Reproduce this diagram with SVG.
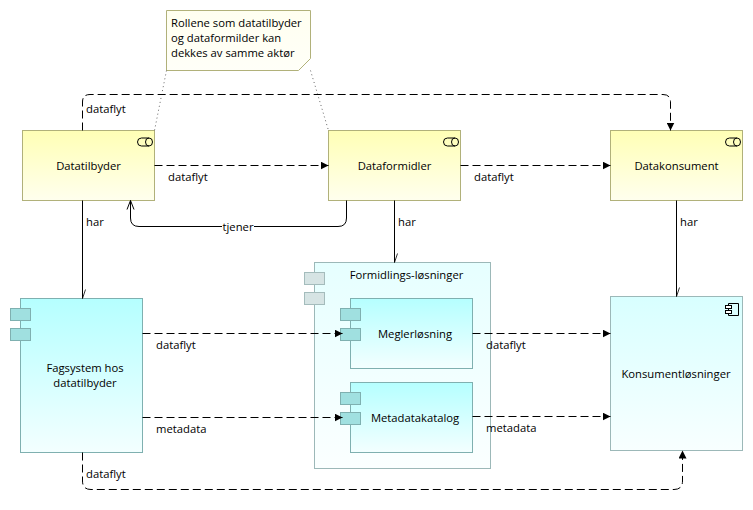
<svg xmlns="http://www.w3.org/2000/svg" width="753" height="510" viewBox="0 0 753 510">
<style>
text{font-family:"Open Sans","Noto Sans","Liberation Sans",sans-serif;font-size:11.25px;fill:#000}
.c{text-anchor:middle}
.act{fill:url(#gy);stroke:#b1b17a}
.comp{fill:url(#gc);stroke:#7fb0b0}
.outer{fill:url(#gl);stroke:#9cb8b8}
.kons{fill:url(#gk);stroke:#9cb8b8}
.tab{fill:#a0e0e0;stroke:#7fb0b0}
.tabg{fill:#d6e4e4;stroke:#a4bcbc}
.icon{fill:none;stroke:#000}
.dash{fill:none;stroke:#000;stroke-width:1;stroke-dasharray:8 4}
.solid{fill:none;stroke:#000;stroke-width:1}
.dot{fill:none;stroke:#666;stroke-dasharray:1 3}
.head{fill:#000;stroke:none}
</style>
<defs>
<linearGradient id="gy" x1="0" y1="0" x2="0" y2="1"><stop offset="0" stop-color="#ffffb5"/><stop offset="1" stop-color="#ffffee"/></linearGradient>
<linearGradient id="gc" x1="0" y1="0" x2="0" y2="1"><stop offset="0" stop-color="#b5ffff"/><stop offset="1" stop-color="#f3ffff"/></linearGradient>
<linearGradient id="gl" x1="0" y1="0" x2="0" y2="1"><stop offset="0" stop-color="#e6ffff"/><stop offset="1" stop-color="#fbffff"/></linearGradient>
<linearGradient id="gk" x1="0" y1="0" x2="0" y2="1"><stop offset="0" stop-color="#d8ffff"/><stop offset="1" stop-color="#f8ffff"/></linearGradient>
<linearGradient id="gn" x1="0" y1="0" x2="0" y2="1"><stop offset="0" stop-color="#fffff0"/><stop offset="1" stop-color="#fffff8"/></linearGradient>
<marker id="tri" markerUnits="userSpaceOnUse" markerWidth="9" markerHeight="8" refX="8" refY="4" orient="auto"><path class="head" d="M0 0L8 4L0 8Z"/></marker>
<marker id="open" markerUnits="userSpaceOnUse" markerWidth="12" markerHeight="12" refX="10" refY="6" orient="auto" overflow="visible"><path d="M1 2.5L10 6L1 9.5" fill="none" stroke="#000"/></marker>
<marker id="tick" markerUnits="userSpaceOnUse" markerWidth="12" markerHeight="12" refX="10" refY="6" orient="auto" overflow="visible"><path d="M1 3L10 6" fill="none" stroke="#000" stroke-width=".8"/></marker>
<g id="cyl"><path class="icon" d="M4 0H11.5A3.5 4 0 0 1 11.5 8H4A4 4 0 0 1 4 0Z"/><path class="icon" d="M11.5 0A3.5 4 0 0 0 11.5 8"/></g>
</defs>

<g id="note"><path d="M166.5 10.5H310.5V58.5L298.5 70.5H166.5Z" fill="url(#gn)" stroke="#b1b17a"/>
<text x="171" y="27">Rollene som datatilbyder</text><text x="171" y="42">og dataformilder kan</text><text x="171" y="57">dekkes av samme aktør</text></g>

<g id="datatilbyder"><rect class="act" x="22.5" y="130.5" width="132" height="70"/><use href="#cyl" x="137.5" y="138"/><text class="c" x="88.5" y="170">Datatilbyder</text></g>
<g id="dataformidler"><rect class="act" x="328.5" y="130.5" width="132" height="70"/><use href="#cyl" x="443.5" y="138"/><text class="c" x="394.5" y="170">Dataformidler</text></g>
<g id="datakonsument"><rect class="act" x="610.5" y="130.5" width="132" height="70"/><use href="#cyl" x="725.5" y="138"/><text class="c" x="676.5" y="170">Datakonsument</text></g>

<g id="fagsystem"><rect class="comp" x="20.5" y="298.5" width="122" height="154"/><rect class="tab" x="10.5" y="308.5" width="20" height="12"/><rect class="tab" x="10.5" y="328.5" width="20" height="12"/><text class="c" x="85" y="372">Fagsystem hos</text><text class="c" x="85" y="387">datatilbyder</text></g>

<g id="formidlings"><rect class="outer" x="314.5" y="262.5" width="176" height="206"/><rect class="tabg" x="304.5" y="272.5" width="20" height="12"/><rect class="tabg" x="304.5" y="292.5" width="20" height="12"/><text class="c" x="406.5" y="279">Formidlings-løsninger</text></g>
<g id="megler"><rect class="comp" x="350.5" y="298.5" width="122" height="70"/><rect class="tab" x="340.5" y="308.5" width="20" height="12"/><rect class="tab" x="340.5" y="328.5" width="20" height="12"/><text class="c" x="415" y="338">Meglerløsning</text></g>
<g id="metadatakatalog"><rect class="comp" x="350.5" y="382.5" width="122" height="70"/><rect class="tab" x="340.5" y="392.5" width="20" height="12"/><rect class="tab" x="340.5" y="412.5" width="20" height="12"/><text class="c" x="415" y="422">Metadatakatalog</text></g>

<g id="konsument"><rect class="kons" x="610.5" y="296.5" width="132" height="154"/>
<path class="icon" d="M728.5 303.5H738.5V315.5H728.5Z"/><rect x="725.5" y="305.5" width="6" height="3" fill="#fff" stroke="#000"/><rect x="725.5" y="310.5" width="6" height="3" fill="#fff" stroke="#000"/><text class="c" x="676" y="378">Konsumentløsninger</text></g>

<g id="connectors">
<path class="dot" d="M166.5 70.5L154.5 130.5"/>
<path class="dot" d="M310.5 70.5L328.5 130.5"/>
<path class="dash" marker-end="url(#tri)" d="M82.5 130.5V102Q82.5 94.5 90 94.5H663Q670.5 94.5 670.5 102V130.5"/>
<path class="dash" marker-end="url(#tri)" d="M154.5 165.5H328.5"/>
<path class="dash" marker-end="url(#tri)" d="M460.5 165.5H610.5"/>
<path class="solid" marker-end="url(#open)" d="M346.5 200.5V218Q346.5 226.5 338 226.5H139Q130.5 226.5 130.5 218V200.5"/>
<path class="solid" marker-end="url(#tick)" d="M82.5 200.5V298.5"/>
<path class="solid" marker-end="url(#tick)" d="M394.5 200.5V262.5"/>
<path class="solid" marker-end="url(#tick)" d="M676.5 200.5V296.5"/>
<path class="dash" marker-end="url(#tri)" d="M142.5 333.5H342.5"/>
<path class="dash" marker-end="url(#tri)" d="M142.5 417.5H342.5"/>
<path class="dash" marker-end="url(#tri)" d="M472.5 333.5H610.5"/>
<path class="dash" marker-end="url(#tri)" d="M472.5 416.5H610.5"/>
<path class="dash" marker-end="url(#tri)" d="M82.5 452.5V481Q82.5 489.5 91 489.5H674Q682.5 489.5 682.5 481V450.5"/>
</g>

<g id="labels">
<text x="86" y="113">dataflyt</text>
<text x="168" y="181">dataflyt</text>
<text x="474" y="181">dataflyt</text>
<text x="86" y="226">har</text>
<text x="398" y="226">har</text>
<text x="680" y="226">har</text>
<rect x="222" y="220" width="32" height="12" fill="#fff"/>
<text class="c" x="238" y="231">tjener</text>
<text x="156" y="349">dataflyt</text>
<text x="156" y="433">metadata</text>
<text x="486" y="349">dataflyt</text>
<text x="486" y="432">metadata</text>
<text x="86" y="478">dataflyt</text>
</g>
</svg>
